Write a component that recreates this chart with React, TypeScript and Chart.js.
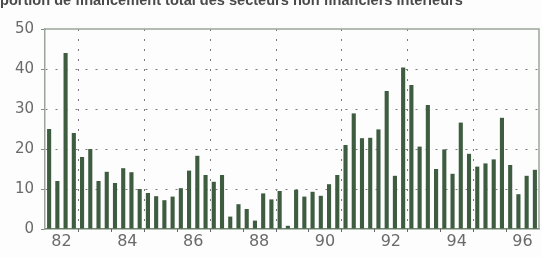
import { useEffect, useRef } from "react";
import { Chart, registerables } from "chart.js";

Chart.register(...registerables);

// Quarterly data, 1982 T1 – 1996 T4
const years = [1982, 1983, 1984, 1985, 1986, 1987, 1988, 1989, 1990, 1991, 1992, 1993, 1994, 1995, 1996];
const quarters = ["T1", "T2", "T3", "T4"];
const values = [
  25, 12, 44, 24, // 1982
  18, 20, 12, 14.3, // 1983
  11.5, 15.2, 14.2, 10, // 1984
  9, 8.2, 7.2, 8.1, // 1985
  10.2, 14.6, 18.3, 13.5, // 1986
  11.8, 13.5, 3.1, 6.2, // 1987
  5, 2.1, 8.9, 7.4, // 1988
  9.5, 0.8, 9.8, 8.1, // 1989
  9.3, 8.3, 11.2, 13.5, // 1990
  21, 28.9, 22.7, 22.8, // 1991
  24.9, 34.5, 13.3, 40.4, // 1992
  36, 20.6, 31, 15, // 1993
  19.9, 13.8, 26.6, 18.8, // 1994
  15.6, 16.4, 17.4, 27.8, // 1995
  16, 8.7, 13.3, 14.8, // 1996
];
const yTicks = [0, 10, 20, 30, 40, 50];
const xTickLabels = ["82", "84", "86", "88", "90", "92", "94", "96"];
const titleText = "portion de financement total des secteurs non financiers intérieurs";

const categories = years.flatMap((y) => quarters.map((q) => `${y} ${q}`));

const GRID = "#7a7a7a";
const BAR = "#3e5c40";
const FRAME = "#9aa59a";

const isOddYearStart = (i: number) => {
  if (i <= 0 || i >= categories.length || i % 4 !== 0) return false;
  const y = years[i / 4];
  return y % 2 === 1;
};

export default function App() {
  const ref = useRef<HTMLCanvasElement | null>(null);

  useEffect(() => {
    if (!ref.current) return;
    const titlePlugin = {
      id: "topTitle",
      afterDraw(chart: any) {
        const ctx = chart.ctx;
        ctx.save();
        ctx.font = "bold 13px 'Liberation Sans', Arial, sans-serif";
        const w = ctx.measureText(titleText).width;
        const size = 13 * (463 / w);
        ctx.font = `bold ${size.toFixed(2)}px 'Liberation Sans', Arial, sans-serif`;
        ctx.fillStyle = "#4a4a4a";
        ctx.textBaseline = "alphabetic";
        ctx.textAlign = "left";
        ctx.fillText(titleText, 0, 5);
        ctx.restore();
      },
    };
    const yearGridPlugin = {
      id: "yearGrid",
      beforeDatasetsDraw(chart: any) {
        const { ctx, chartArea: a, scales } = chart;
        const xs = scales.x;
        ctx.save();
        ctx.lineWidth = 1;
        for (let i = 4; i < categories.length; i += 4) {
          const x = Math.round((xs.getPixelForValue(i - 1) + xs.getPixelForValue(i)) / 2) + 0.5;
          if (isOddYearStart(i)) {
            ctx.strokeStyle = GRID;
            ctx.setLineDash([2, 8]);
            ctx.beginPath();
            ctx.moveTo(x, a.top);
            ctx.lineTo(x, a.bottom);
            ctx.stroke();
          }
          ctx.setLineDash([]);
          ctx.strokeStyle = "#666";
          ctx.beginPath();
          ctx.moveTo(x, a.bottom);
          ctx.lineTo(x, a.bottom + 3);
          ctx.stroke();
        }
        ctx.restore();
      },
    };
    const framePlugin = {
      id: "frame",
      afterDatasetsDraw(chart: any) {
        const { ctx, chartArea: a } = chart;
        ctx.save();
        ctx.strokeStyle = FRAME;
        ctx.lineWidth = 1.5;
        ctx.beginPath();
        ctx.moveTo(a.left, a.top);
        ctx.lineTo(a.right, a.top);
        ctx.lineTo(a.right, a.bottom);
        ctx.stroke();
        ctx.restore();
      },
    };

    const chart = new Chart(ref.current, {
      type: "bar",
      data: {
        labels: categories,
        datasets: [
          {
            data: values,
            backgroundColor: BAR,
            borderWidth: 0,
            barPercentage: 0.5,
            categoryPercentage: 1,
          },
        ],
      },
      plugins: [titlePlugin, yearGridPlugin, framePlugin],
      options: {
        animation: false,
        responsive: false,
        maintainAspectRatio: false,
        events: [],
        layout: { padding: { top: 29, right: 3, left: 0, bottom: 0 } },
        plugins: {
          legend: { display: false },
          tooltip: { enabled: false },
          title: { display: false },
        },
        scales: {
          x: {
            afterFit: (s: any) => {
              s.height = 28;
            },
            grid: {
              offset: true,
              drawTicks: true,
              tickLength: 3,
              lineWidth: 1,
              color: "rgba(0,0,0,0)",
              tickColor: "rgba(0,0,0,0)",
            },
            border: { display: true, color: "#6f856f", width: 1.5 },
            ticks: {
              autoSkip: false,
              maxRotation: 0,
              minRotation: 0,
              padding: 0,
              labelOffset: -4.1,
              color: "#6a6a6a",
              font: { family: "'DejaVu Sans', sans-serif", size: 16 },
              callback: (_v: any, i: number) => {
                if (i % 4 !== 2) return "";
                const yy = String(years[Math.floor(i / 4)] % 100);
                return xTickLabels.includes(yy) ? yy : "";
              },
            },
          },
          y: {
            min: 0,
            max: 50,
            afterFit: (s: any) => {
              s.width = 45;
            },
            afterBuildTicks: (s: any) => {
              s.ticks = yTicks.map((v) => ({ value: v }));
            },
            grid: {
              drawTicks: true,
              tickLength: 4,
              lineWidth: 1,
              color: (c: any) =>
                c.tick && (c.tick.value === 0 || c.tick.value === 50) ? "rgba(0,0,0,0)" : GRID,
              tickColor: "#888",
            },
            border: { display: true, color: FRAME, width: 1.5, dash: [2, 8] },
            ticks: {
              padding: 7,
              color: "#6a6a6a",
              font: { family: "'DejaVu Sans', sans-serif", size: 15 },
            },
          },
        },
      } as any,
    });
    return () => chart.destroy();
  }, []);

  return (
    <div style={{ position: "fixed", left: 0, top: 0, width: 542, height: 257, background: "#fdfdfd" }}>
      <canvas ref={ref} width={542} height={257} style={{ display: "block" }} />
    </div>
  );
}
